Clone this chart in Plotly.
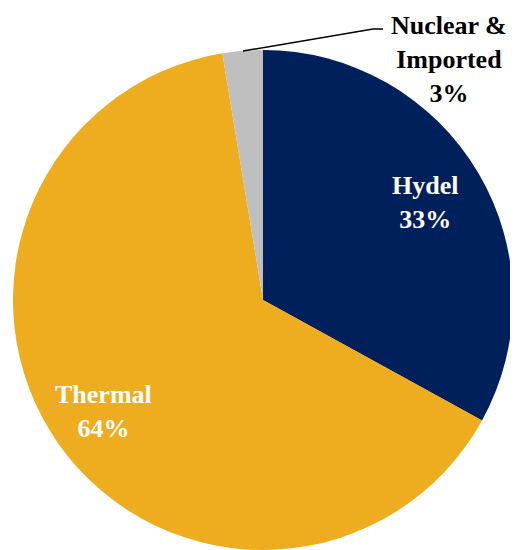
import plotly.graph_objects as go

labels = ["Hydel", "Thermal", "Nuclear &<br>Imported"]
values = [33.0, 64.4, 2.6]
colors = ["#00205C", "#EDAD1F", "#BFBFBF"]
text_colors = ["white", "white", "black"]

total = sum(values)
pct = [f"{round(v / total * 100):.0f}%" for v in values]

fig = go.Figure(go.Pie(
    labels=labels,
    values=values,
    sort=False,
    direction="clockwise",
    rotation=0,
    marker=dict(colors=colors, line=dict(width=0)),
    textinfo="none",
    hoverinfo="label+percent",
    showlegend=False,
))

FONT = "Liberation Serif"
pos = [(0.824, 0.696), (0.18, 0.278), (0.872, 0.982)]
for lab, p, tc, (x, y) in zip(labels, pct, text_colors, pos):
    fig.add_annotation(
        x=x, y=y, xref="paper", yref="paper",
        text=f"<b>{lab}<br>{p}</b>", showarrow=False,
        font=dict(family=FONT, size=26, color=tc),
        align="center", xanchor="center", yanchor="middle",
    )

fig.add_shape(type="path", xref="paper", yref="paper",
              path="M 0.46 0.998 L 0.72 1.042 L 0.74 1.042",
              line=dict(color="black", width=1.5))

fig.update_layout(
    width=518, height=550,
    margin=dict(l=5, r=13, t=42, b=8),
    paper_bgcolor="white", plot_bgcolor="white",
)
fig.write_html("out.html")
